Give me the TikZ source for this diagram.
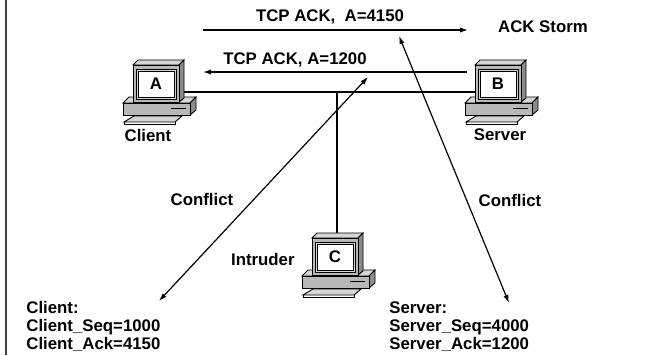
\documentclass[tikz,border=0pt]{standalone}
\usepackage{fontspec}
\setmainfont{Liberation Sans}
\usetikzlibrary{arrows.meta}
\definecolor{pcfront}{gray}{0.72}
\definecolor{pctop}{gray}{0.84}
\definecolor{pcside}{gray}{0.55}
\tikzset{
  lbl/.style={font=\fontsize{8.4}{9}\selectfont\bfseries, inner sep=0pt},
  wire/.style={line width=0.65pt},
  msg/.style={line width=0.6pt, -{Latex[length=4pt,width=2.6pt]}},
  both/.style={line width=0.6pt, {Latex[length=4pt,width=2.6pt]}-{Latex[length=4pt,width=2.6pt]}},
  box/.style={line width=0.45pt}
}
% \pc{name}{x}{y}{letter}: desktop computer, front of the monitor at (x,y)
\newcommand{\pc}[4]{%
\begin{scope}[shift={(#2,#3)}, box]
% base
\filldraw[fill=pctop] (-10,38) -- (-4,32) -- (63,32) -- (57,38) -- cycle;
\filldraw[fill=pcside] (57,38) -- (63,32) -- (63,45) -- (57,50) -- cycle;
\filldraw[fill=pcfront] (-10,38) rectangle (57,50);
\draw (38,43) -- (53,43);
% keyboard
\filldraw[fill=pctop] (1,51) -- (49,51) -- (42,57) -- (-9,57) -- cycle;
\draw (-9,57) -- (-9,59) -- (42,59) -- (42,57);
% monitor
\filldraw[fill=pctop] (0,0) -- (5,-5) -- (51,-5) -- (46,0) -- cycle;
\filldraw[fill=pcside] (46,0) -- (51,-5) -- (51,33) -- (46,37) -- cycle;
\filldraw[fill=pcfront] (0,0) rectangle (46,37);
\filldraw[fill=pctop] (3,4) rectangle (43,34);
\filldraw[fill=white] (5,6) rectangle (41,32);
\node[lbl] (#1) at (23,19) {#4};
\coordinate (#1-w) at (0,27);
\coordinate (#1-e) at (51,27);
\coordinate (#1-n) at (25,-5);
\end{scope}}
\begin{document}
\begin{tikzpicture}[x=0.5pt, y=-0.5pt]
\useasboundingbox (0,0) rectangle (659,355);
\draw[line width=1pt, black!75] (6,0) -- (6,355);

\pc{A}{133}{65}{A}
\pc{B}{475}{65}{B}
\pc{C}{312}{238}{C}
\node[lbl] (client) at (148,135) {Client};
\node[lbl] (server) at (500,135) {Server};
\node[lbl, anchor=east] (intruder) at (295,259) {Intruder};

% shared wire and the intruder's tap
\coordinate (tap) at (C-n |- A-e);
\draw[wire] (A-e) -- (B-w);
\draw[wire] (tap) -- (C-n);

% the two acks
\coordinate (ack1s) at (203,30);
\coordinate (ack1e) at (468,30);
\coordinate (ack2s) at (467,72);
\coordinate (ack2e) at (203,72);
\draw[msg] (ack1s) -- (ack1e);
\draw[msg] (ack2s) -- (ack2e);
\node[lbl] (ack4150) at (330,17) {TCP ACK,\ \ A=4150};
\node[lbl] (ack1200) at (295,60) {TCP ACK, A=1200};
\node[lbl] (storm) at (543,27) {ACK Storm};

% conflicting states
\coordinate (cfl1) at (159,301);
\coordinate (cfl2) at (368,77);
\coordinate (cfr1) at (399,36);
\coordinate (cfr2) at (509,303);
\draw[both] (cfl1) -- (cfl2);
\draw[both] (cfr1) -- (cfr2);
\node[lbl] (conflL) at (202,199) {Conflict};
\node[lbl] (conflR) at (510,200) {Conflict};

\node[lbl, anchor=north west, align=left] (cstate) at (26,301)
  {Client:\\Client\_Seq=1000\\Client\_Ack=4150};
\node[lbl, anchor=north west, align=left] (sstate) at (389,301)
  {Server:\\Server\_Seq=4000\\Server\_Ack=1200};
\end{tikzpicture}
\end{document}
